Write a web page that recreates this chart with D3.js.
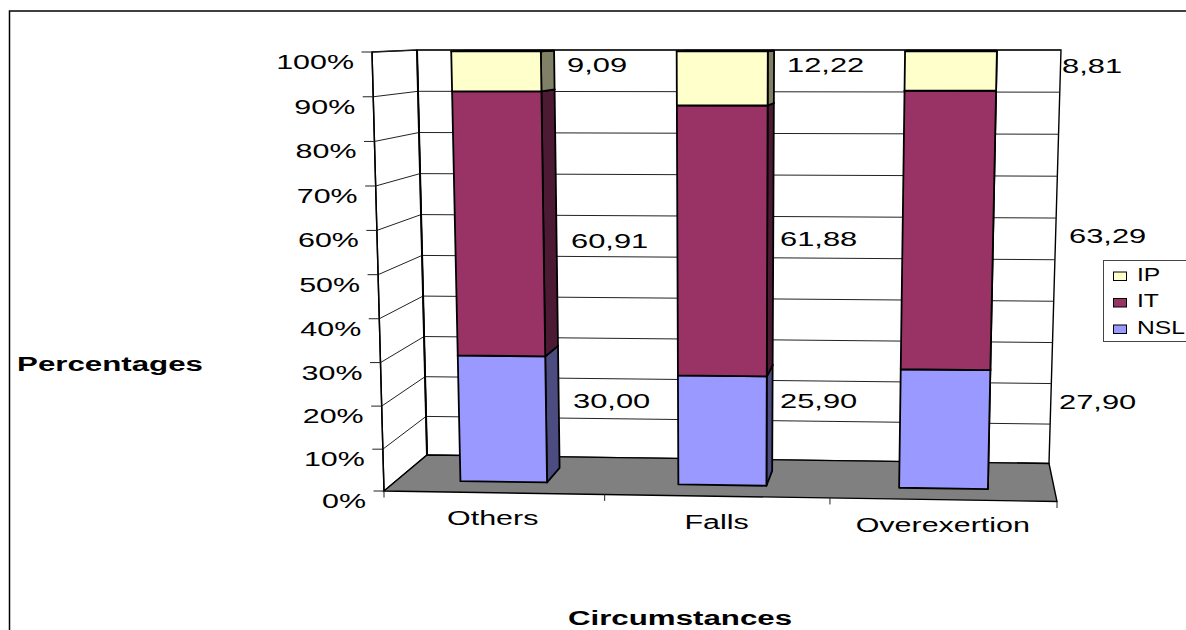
<!DOCTYPE html>
<html><head><meta charset="utf-8">
<script src="https://cdnjs.cloudflare.com/ajax/libs/d3/7.8.5/d3.min.js"></script>
<style>html,body{margin:0;padding:0;background:#fff;overflow:hidden}svg{display:block}text{font-family:"Liberation Sans",Arial,sans-serif;fill:#000}</style>
</head><body><svg id="c" width="1186" height="630"></svg>
<script>
// ---- data ----
const categories = ["Others", "Falls", "Overexertion"];
const seriesNames = ["NSL", "IT", "IP"];
const NSL = [30.00, 25.90, 27.90];
const IT  = [60.91, 61.88, 63.29];
const IP  = [9.09, 12.22, 8.81];
const yTicks = [0, 10, 20, 30, 40, 50, 60, 70, 80, 90, 100];
const xTitle = "Circumstances";
const yTitle = "Percentages";
const colors = {NSL:"#9999FF", IT:"#993366", IP:"#FFFFCC"};
const sideColors = {NSL:"#4C4C80", IT:"#4D1A33", IP:"#808066"};

// ---- layout: corners of the 3-D plot box on the screen ----
const box = {
  fbl:[384,491], fbr:[1057,501.5], ftl:[372,52], ftr:[1068,52],
  bbl:[427,455], bbr:[1049,463.5], btl:[417,50], btr:[1061,50]
};
const lerp = (a,b,t)=>[a[0]+(b[0]-a[0])*t, a[1]+(b[1]-a[1])*t];
const uBand = d3.scaleBand().domain(categories).range([0,1]).paddingInner(0.6).paddingOuter(0.3);
const uWarp = d3.scalePow().exponent(1.015).domain([0,1]).range([0,1]);
const vScale = d3.scalePow().exponent(1.021).domain([0,100]).range([0,1]);
const depth = d3.scaleLinear().domain([0,1]).range([0.3,0.7]);   // bar depth inside the box
function P(u,val,d){
  const uu=uWarp(u), v=vScale(val);
  const front=lerp(lerp(box.fbl,box.fbr,uu),lerp(box.ftl,box.ftr,uu),v);
  const back =lerp(lerp(box.bbl,box.bbr,uu),lerp(box.btl,box.btr,uu),v);
  return lerp(front,back,d);
}
const line=d3.line();
const closed=pts=>line(pts)+"Z";
const svg=d3.select("#c");
svg.append("rect").attr("width",1186).attr("height",630).attr("fill","#fff");

function label(x,y,str,o={}){
  const size=o.size||21, sx=o.sx||1.45;
  return svg.append("text").attr("transform",`translate(${x},${y}) scale(${sx},1)`)
    .attr("text-anchor",o.anchor||"start").attr("font-size",size)
    .attr("font-weight",o.bold?"bold":"normal").text(str);
}

// outer frame (runs off the right and bottom edges)
svg.append("path").attr("d",line([[9.5,640],[9.5,11],[1196,11]])).attr("fill","none").attr("stroke","#000").attr("stroke-width",1.5);

// walls and floor
const wallG=svg.append("g").attr("fill","#fff").attr("stroke","#000").attr("stroke-linejoin","miter");
wallG.append("path").attr("d",closed([box.btl,box.btr,box.bbr,box.bbl])).attr("stroke-width",1.4);
wallG.append("path").attr("d",closed([box.ftl,box.btl,box.bbl,box.fbl])).attr("stroke-width",1.4);
// grid
const gridG=svg.append("g").attr("fill","none").attr("stroke","#222").attr("stroke-width",1);
yTicks.filter(t=>t>0).forEach(t=>{
  gridG.append("path").attr("d",line([P(0,t,0),P(0,t,1),P(1,t,1)]));
});
svg.append("path").attr("d",line([box.btl,box.bbl])).attr("fill","none").attr("stroke","#000").attr("stroke-width",2);
svg.append("path").attr("d",line([box.ftl,box.fbl])).attr("fill","none").attr("stroke","#000").attr("stroke-width",1.4);
svg.append("path").attr("d",closed([box.bbl,box.bbr,box.fbr,box.fbl])).attr("fill","#808080").attr("stroke","#000").attr("stroke-width",1.4);

// y axis ticks + labels
yTicks.forEach(t=>{
  const p=P(0,t,0);
  svg.append("path").attr("d",line([[p[0]-10.5,p[1]],p])).attr("stroke","#222").attr("stroke-width",1).attr("fill","none");
  label(p[0]-18,p[1]+17,t+"%",{anchor:"end"});
});
// x axis ticks + labels
d3.range(0,4).forEach(i=>{
  const p=P(i/3,0,0);
  svg.append("path").attr("d",line([p,[p[0],p[1]+6.5]])).attr("stroke","#222").attr("stroke-width",1).attr("fill","none");
});
categories.forEach(c=>{
  const p=P(uBand(c)+uBand.bandwidth()/2,0,0);
  label(p[0]-0.5,p[1]+32.5,c,{anchor:"middle"});
});

// stacked bars
const rows=categories.map((c,i)=>({cat:c,NSL:NSL[i],IT:IT[i],IP:IP[i]}));
const stacked=d3.stack().keys(seriesNames)(rows);
const d0=depth(0), d1=depth(1);
categories.forEach((c,i)=>{
  const uL=uBand(c), uR=uL+uBand.bandwidth();
  const g=svg.append("g").attr("stroke","#000").attr("stroke-width",1.8).attr("stroke-linejoin","round");
  stacked.forEach(s=>{
    const [lo,hi]=s[i], k=s.key;
    g.append("path").attr("d",closed([P(uR,lo,d0),P(uR,hi,d0),P(uR,hi,d1),P(uR,lo,d1)])).attr("fill",sideColors[k]);
    g.append("path").attr("d",closed([P(uL,hi,d0),P(uR,hi,d0),P(uR,hi,d1),P(uL,hi,d1)])).attr("fill",colors[k]);
    g.append("path").attr("d",closed([P(uL,lo,d0),P(uR,lo,d0),P(uR,hi,d0),P(uL,hi,d0)])).attr("fill",colors[k]);
  });
});

// data labels (hand-placed in the reference)
const fmt=v=>d3.format(".2f")(v).replace(".",",");
const labelLayout={
  IP:[[567,72],[787,72],[1062,73]],
  IT:[[571,248],[780,246],[1069,243]],
  NSL:[[573,408],[780,408],[1059,409]]
};
const valuesBySeries={NSL,IT,IP};
seriesNames.forEach(k=>valuesBySeries[k].forEach((v,i)=>{
  const [x,y]=labelLayout[k][i];
  label(x,y,fmt(v),{sx:1.47});
}));

// axis titles
label(110,371,yTitle,{bold:true,size:21,sx:1.49,anchor:"middle"});
label(680,625,xTitle,{bold:true,size:21,sx:1.49,anchor:"middle"});

// legend
svg.append("rect").attr("x",1103.5).attr("y",260.5).attr("width",100).attr("height",81).attr("fill","#fff").attr("stroke","#444").attr("stroke-width",1);
const legendY=d3.scalePoint().domain(["IP","IT","NSL"]).range([276,329]);
["IP","IT","NSL"].forEach(k=>{
  const y=legendY(k);
  svg.append("rect").attr("x",1113.5).attr("y",y-4).attr("width",13).attr("height",8.5).attr("fill",colors[k]).attr("stroke","#000").attr("stroke-width",1);
  label(1137,y+4.5,k,{size:18,sx:1.37});
});
</script></body></html>
